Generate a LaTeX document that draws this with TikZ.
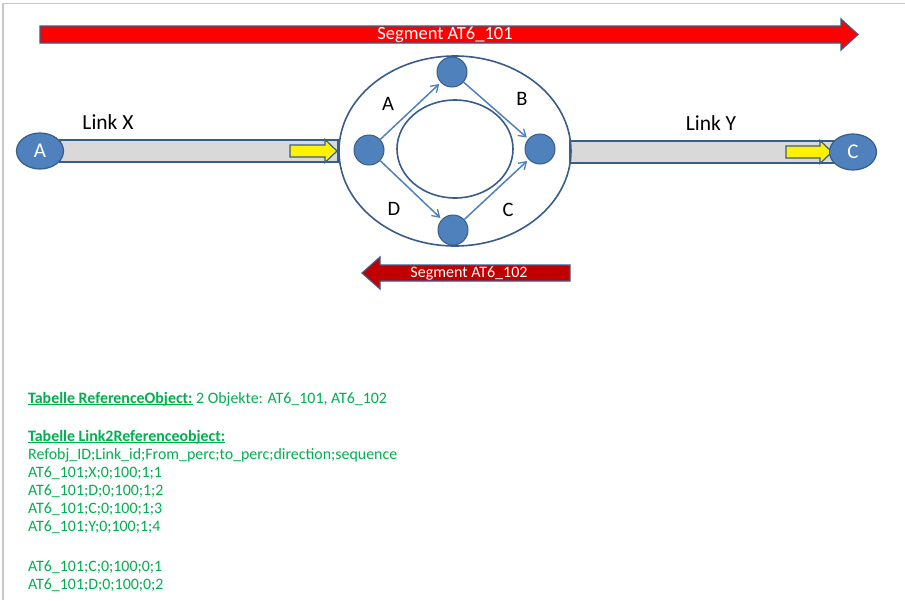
\documentclass[tikz,border=0pt]{standalone}
\usepackage{fontspec}
\setmainfont{Carlito}
\usetikzlibrary{arrows.meta,shapes.geometric}
\definecolor{nodeblue}{HTML}{4F81BD}
\definecolor{edgeblue}{HTML}{385D8A}
\definecolor{barfill}{HTML}{D9D9D9}
\definecolor{segred}{HTML}{FF0000}
\definecolor{segdark}{HTML}{C00000}
\definecolor{tabgreen}{HTML}{00B050}
\definecolor{framegray}{HTML}{C8C8C8}
% bold heading with a close, solid underline
\newcommand\headul[1]{\setbox0\hbox{\bfseries #1}\rlap{\rule[-1.9pt]{\wd0}{1.3pt}}\box0\relax}
\tikzset{
  endpoint/.style={ellipse, fill=nodeblue, draw=edgeblue, line width=1.2pt,
    minimum width=47pt, minimum height=36pt, inner sep=0pt, text=white,
    font=\fontsize{21}{21}\selectfont},
  junction/.style={circle, fill=nodeblue, draw=edgeblue, line width=1pt,
    minimum size=30pt, inner sep=0pt},
  linkbar/.style={fill=barfill, draw=edgeblue, line width=1.2pt},
  dirarrow/.style={fill=yellow, draw=edgeblue, line width=1.2pt},
  flow/.style={draw=nodeblue, line width=1.5pt,
    -{Straight Barb[length=7pt,width=9pt,line width=1.3pt]}},
  ringline/.style={draw=edgeblue, line width=1.6pt},
  biglabel/.style={font=\fontsize{21.5}{21.5}\selectfont, text=black},
  letterlabel/.style={font=\fontsize{20.5}{20.5}\selectfont, text=black},
  seglabel/.style={text=white, inner sep=0pt},
  tabline/.style={anchor=base west, inner sep=0pt, text=tabgreen,
    font=\fontsize{15.9}{15.9}\selectfont},
}
\begin{document}
\begin{tikzpicture}[x=1pt,y=-1pt]
\useasboundingbox (0,0) rectangle (905,600);
\fill[white] (0,0) rectangle (905,600);
% page frame
\draw[framegray, line width=1.2pt] (3,600) -- (3,3.5) -- (905,3.5);

% segment AT6_101 (forward)
\draw[fill=segred, draw=edgeblue, line width=1.2pt]
  (40,26) -- (841,26) -- (841,19) -- (858,34.5) -- (841,50) -- (841,43) -- (40,43) -- cycle;
\node[seglabel, font=\fontsize{18.5}{18.5}\selectfont] (seg1) at (445,34.5) {Segment AT6\_101};

% link bars
\draw[linkbar] (60,140) rectangle (338,162);
\draw[linkbar] (570,141) rectangle (842,163);
\draw[dirarrow] (290,145) -- (325,145) -- (325,139.5) -- (337,151) -- (325,162.5) -- (325,157) -- (290,157) -- cycle;
\draw[dirarrow] (786,146) -- (820,146) -- (820,140.5) -- (832,152) -- (820,163.5) -- (820,158) -- (786,158) -- cycle;
\node[biglabel] (lx) at (108,122) {Link X};
\node[biglabel] (ly) at (711,123) {Link Y};

% end nodes
\node[endpoint] (A) at (40,151) {A};
\node[endpoint] (C) at (853,152) {C};

% roundabout
\node[ellipse, ringline, minimum width=232pt, minimum height=190pt] (outer) at (455,151) {};
\node[ellipse, ringline, minimum width=116pt, minimum height=98pt] (inner) at (455,149) {};

\node[junction] (jl) at (369,150) {};
\node[junction] (jt) at (452,72) {};
\node[junction] (jr) at (540,149) {};
\node[junction] (jb) at (453,230) {};

\draw[flow, shorten >=2pt] (jl) -- (jt);
\draw[flow, shorten >=2pt] (jt) -- (jr);
\draw[flow, shorten >=2pt] (jl) -- (jb);
\draw[flow, shorten >=2pt] (jb) -- (jr);

\node[letterlabel] (la) at (388,104) {A};
\node[letterlabel] (lb) at (522,99) {B};
\node[letterlabel] (ld) at (394,209) {D};
\node[letterlabel] (lc) at (508,210) {C};

% segment AT6_102 (backward)
\draw[fill=segdark, draw=edgeblue, line width=1.2pt]
  (570,265) -- (380,265) -- (380,257) -- (362,273) -- (380,289) -- (380,281) -- (570,281) -- cycle;
\node[seglabel, font=\fontsize{16}{16}\selectfont] (seg2) at (469,273) {Segment AT6\_102};

% table listing
\node[tabline] (t1) at (28,403) {\headul{Tabelle ReferenceObject:} 2 Objekte: AT6\_101, AT6\_102};
\node[tabline] (t2) at (28,441) {\headul{Tabelle Link2Referenceobject:}};
\node[tabline] (t3) at (28,459) {Refobj\_ID;Link\_id;From\_perc;to\_perc;direction;sequence};
\node[tabline] (t4) at (28,477) {AT6\_101;X;0;100;1;1};
\node[tabline] (t5) at (28,495) {AT6\_101;D;0;100;1;2};
\node[tabline] (t6) at (28,513) {AT6\_101;C;0;100;1;3};
\node[tabline] (t7) at (28,531) {AT6\_101;Y;0;100;1;4};
\node[tabline] (t8) at (28,571) {AT6\_101;C;0;100;0;1};
\node[tabline] (t9) at (28,589) {AT6\_101;D;0;100;0;2};
\end{tikzpicture}
\end{document}
